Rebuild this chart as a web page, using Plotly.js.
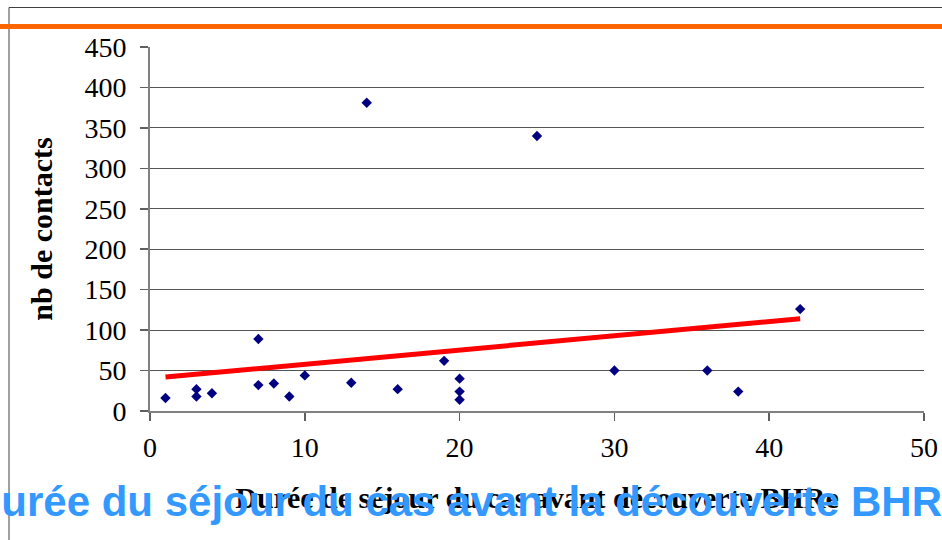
<!DOCTYPE html>
<html>
<head>
<meta charset="utf-8">
<script src="https://cdn.plot.ly/plotly-3.0.1.min.js"></script>
<style>html,body{margin:0;padding:0;background:#fff;}#chart{width:942px;height:540px;}</style>
</head>
<body>
<div id="chart"></div>
<script>
// Data
var days = [1, 3, 3, 4, 7, 7, 8, 9, 10, 13, 14, 16, 19, 20, 20, 20, 25, 30, 36, 38, 42];
var contacts = [16, 27, 18, 22, 89, 32, 34, 18, 44, 35, 381, 27, 62, 40, 24, 14, 340, 50, 50, 24, 126];
var trendDays = [1, 42];
var trendContacts = [42, 114];
var xTitle = "Durée de séjour du cas avant découverte BHRe";
var yTitle = "nb de contacts";
var overlayTitle = "Durée du séjour du cas avant la découverte BHRe";

var W = 942, H = 540;
var M = {l: 150, r: 18, t: 47, b: 129};
var pw = W - M.l - M.r, ph = H - M.t - M.b;
function px(x) { return (x - M.l) / pw; }
function py(y) { return (H - M.b - y) / ph; }

var traces = [
  {
    x: days, y: contacts, type: 'scatter', mode: 'markers',
    marker: {symbol: 'diamond', size: 8, color: '#000080'},
    hoverinfo: 'x+y', cliponaxis: false
  },
  {
    x: trendDays, y: trendContacts, type: 'scatter', mode: 'lines',
    line: {color: '#ff0000', width: 5}, hoverinfo: 'skip'
  }
];

var serif = '"Liberation Serif", "Times New Roman", serif';
var layout = {
  width: W, height: H,
  margin: M,
  paper_bgcolor: '#ffffff', plot_bgcolor: '#ffffff',
  showlegend: false,
  xaxis: {
    range: [0, 50], dtick: 10, tick0: 0,
    showgrid: false, zeroline: false,
    showline: true, linecolor: '#808080', linewidth: 2,
    ticks: 'outside', ticklen: 8, tickwidth: 1.5, tickcolor: '#606060',
    ticklabelstandoff: 2,
    tickfont: {family: serif, size: 28, color: '#000'},
    title: {text: xTitle, font: {family: serif, size: 30, color: '#000', weight: 'bold'}, standoff: 25},
    automargin: false
  },
  yaxis: {
    range: [0, 450], dtick: 50, tick0: 0,
    showgrid: true, gridcolor: '#555555', gridwidth: 1,
    zeroline: false,
    showline: true, linecolor: '#808080', linewidth: 2,
    ticks: 'outside', ticklen: 8, tickwidth: 1.5, tickcolor: '#606060',
    ticklabelstandoff: 8,
    tickfont: {family: serif, size: 28, color: '#000'},
    title: {text: yTitle, font: {family: serif, size: 30, color: '#000', weight: 'bold'}, standoff: 23},
    automargin: false
  },
  shapes: [
    {type: 'line', xref: 'paper', yref: 'paper', x0: px(9), x1: px(9), y0: py(7.5), y1: py(540), line: {color: '#404040', width: 1}},
    {type: 'line', xref: 'paper', yref: 'paper', x0: px(9), x1: px(942), y0: py(7.5), y1: py(7.5), line: {color: '#404040', width: 1}},
    {type: 'line', xref: 'paper', yref: 'paper', x0: px(0), x1: px(942), y0: py(26.5), y1: py(26.5), line: {color: '#ff6600', width: 5}}
  ],
  annotations: [
    {
      text: overlayTitle, xref: 'paper', yref: 'paper',
      x: px(-31), y: py(501), xanchor: 'left', yanchor: 'middle',
      showarrow: false,
      font: {family: '"Liberation Sans", Arial, sans-serif', size: 42, color: '#3399ff', weight: 'bold'}
    }
  ]
};

Plotly.newPlot('chart', traces, layout, {displayModeBar: false, staticPlot: true});
</script>
</body>
</html>
